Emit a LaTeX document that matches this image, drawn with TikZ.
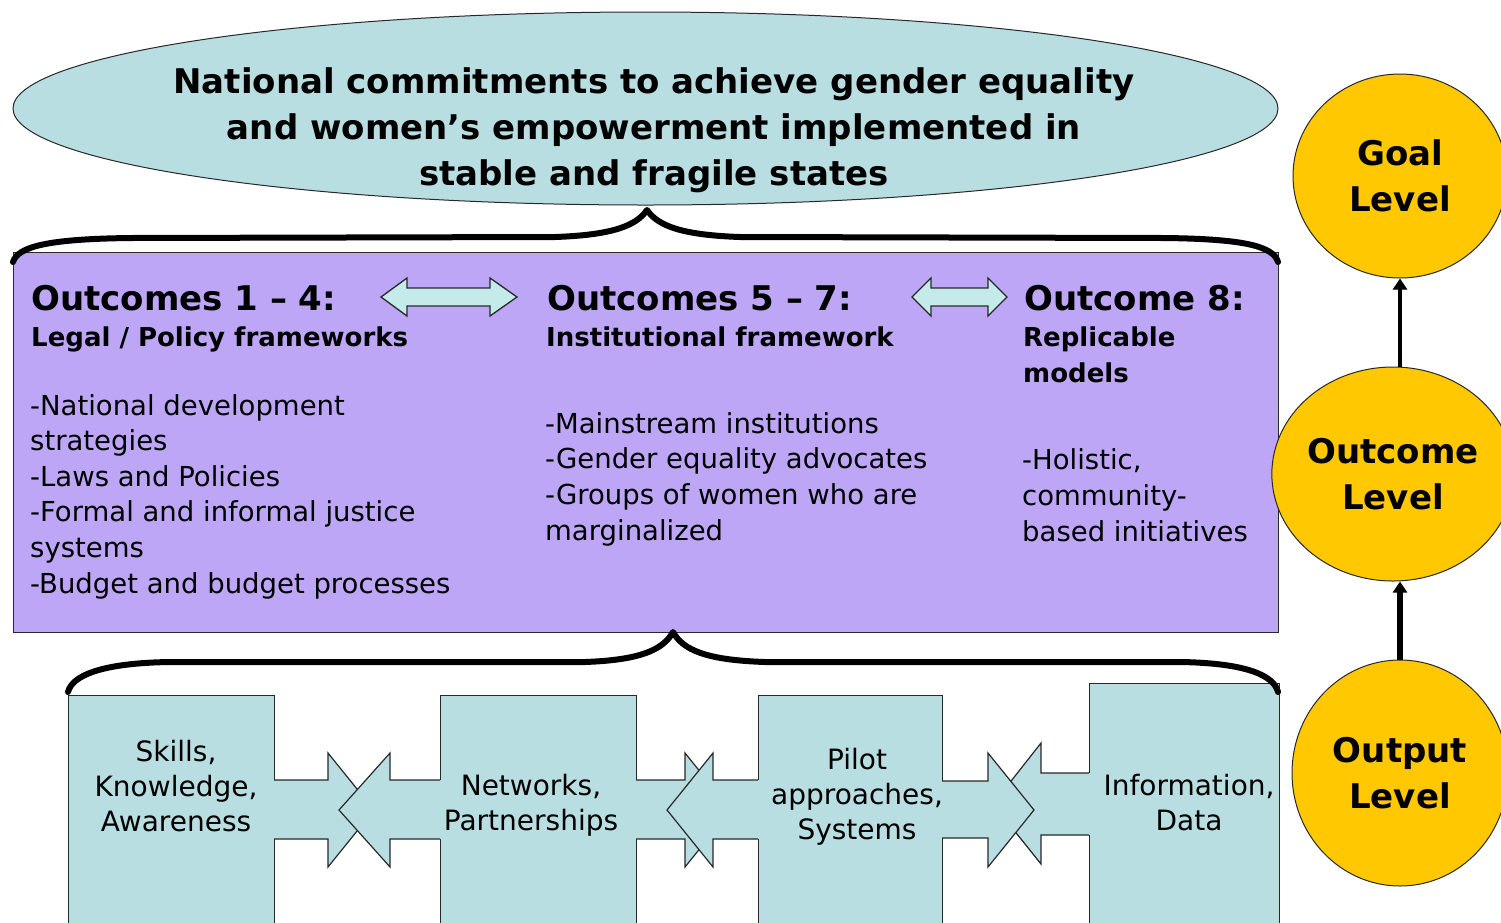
\documentclass[tikz,border=0pt]{standalone}
\usepackage{fontspec}
\setmainfont{DejaVu Sans}
\usetikzlibrary{shapes.geometric,arrows.meta}
\definecolor{tealfill}{RGB}{184,222,226}
\definecolor{purpfill}{RGB}{190,166,246}
\definecolor{goldfill}{RGB}{255,200,0}
\definecolor{arrfill}{RGB}{196,234,234}
\definecolor{edgecol}{RGB}{40,40,40}
\begin{document}
\begin{tikzpicture}[x=1pt,y=-1pt,
  outline/.style={draw=edgecol,line width=1.2pt},
  lvl/.style={ellipse,draw=edgecol,line width=1pt,fill=goldfill,inner sep=0pt,
    align=center,font=\bfseries\fontsize{34}{46}\selectfont},
  lvlarrow/.style={-{Triangle[width=14pt,length=11pt]},line width=4.5pt,black},
  bracestyle/.style={line width=6pt,line cap=round,line join=round,black},
  headt/.style={inner sep=0pt,align=left,font=\bfseries\fontsize{34}{46}\selectfont},
  subt/.style={inner sep=0pt,align=left,font=\bfseries\fontsize{26}{36}\selectfont},
  bodyt/.style={inner sep=0pt,align=left,font=\fontsize{27.5}{35.6}\selectfont},
  boxt/.style={inner sep=0pt,align=center,font=\fontsize{28}{35}\selectfont},
  outbox/.style={outline,fill=tealfill,inner sep=0pt,anchor=north west},
  dblarrow/.style={draw=edgecol,line width=1.3pt,fill=arrfill,line join=miter}
]
\useasboundingbox (0,0) rectangle (1501,922);
\clip (0,0) rectangle (1501,922);

% goal ellipse
\node[ellipse,draw=edgecol,line width=1pt,fill=tealfill,minimum width=1265pt,minimum height=193pt,inner sep=0pt] (goalE) at (645.5,108.5) {};
\node[inner sep=0pt,align=center,font=\bfseries\fontsize{34}{46}\selectfont,anchor=base] (title) at (654,185)
  {National commitments to achieve gender equality\\and women’s empowerment implemented in\\stable and fragile states};

% purple outcome box
\node[outline,fill=purpfill,anchor=north west,minimum width=1265pt,minimum height=380pt,inner sep=0pt] (pbox) at (13,252) {};

% top brace
\draw[bracestyle] (13,262) .. controls (18,246) and (50,239) .. (130,238) -- (555,237)
  .. controls (612,235) and (636,226) .. (647,210)
  .. controls (658,226) and (682,235) .. (740,237) -- (1165,238)
  .. controls (1244,239) and (1273,246) .. (1278,262);

% column headers
\node[headt,anchor=base west] (h1) at (31,310) {Outcomes 1 – 4:};
\node[headt,anchor=base west] (h2) at (547,310) {Outcomes 5 – 7:};
\node[headt,anchor=base west] (h3) at (1024,310) {Outcome 8:};
\node[subt,anchor=base west] (s1) at (31,346) {Legal / Policy frameworks};
\node[subt,anchor=base west] (s2) at (546,346) {Institutional framework};
\node[subt,anchor=base west] (s3) at (1023,382) {Replicable\\models};

% body texts (anchor base = last line baseline)
\node[bodyt,anchor=base west] (c1) at (30,593) {-National development\\strategies\\-Laws and Policies\\-Formal and informal justice\\systems\\-Budget and budget processes};
\node[bodyt,anchor=base west] (c2) at (545,540) {-Mainstream institutions\\-Gender equality advocates\\-Groups of women who are\\marginalized};
\node[bodyt,anchor=base west] (c3) at (1022,541) {-Holistic,\\community-\\based initiatives};

% double arrows between columns
\draw[dblarrow] (381,297) -- (407,278) -- (407,288) -- (490,288) -- (490,278) -- (517,297)
  -- (490,316) -- (490,306) -- (407,306) -- (407,316) -- cycle;
\draw[dblarrow] (912,297) -- (931,278) -- (931,288) -- (988,288) -- (988,278) -- (1007,297)
  -- (988,316) -- (988,306) -- (931,306) -- (931,316) -- cycle;

% bottom boxes
\node[outbox,minimum width=206pt,minimum height=250pt] (b1) at (68,695) {};
\node[outbox,minimum width=196pt,minimum height=250pt] (b2) at (440,695) {};
\node[outbox,minimum width=184pt,minimum height=250pt] (b3) at (758,695) {};
\node[outbox,minimum width=190pt,minimum height=260pt] (b4) at (1089,683) {};

% bottom brace
\draw[bracestyle] (68,692) .. controls (72,676) and (100,663) .. (170,662) -- (585,662)
  .. controls (640,660) and (663,650) .. (673,632)
  .. controls (683,650) and (706,660) .. (765,662) -- (1180,662)
  .. controls (1248,663) and (1274,676) .. (1278,692);

% block arrows: pair 1
\fill[tealfill] (272,780) -- (328,780) -- (328,753) -- (374,810) -- (328,867) -- (328,839) -- (272,839) -- cycle;
\draw[outline,line join=miter] (274,780) -- (328,780) -- (328,753) -- (374,810) -- (328,867) -- (328,839) -- (274,839);
\fill[tealfill] (442,780) -- (390,780) -- (390,753) -- (339,810) -- (390,867) -- (390,839) -- (442,839) -- cycle;
\draw[outline,line join=miter] (440,780) -- (390,780) -- (390,753) -- (339,810) -- (390,867) -- (390,839) -- (440,839);
% pair 2
\fill[tealfill] (634,780) -- (685,780) -- (685,753) -- (731,810) -- (685,867) -- (685,839) -- (634,839) -- cycle;
\draw[outline,line join=miter] (636,780) -- (685,780) -- (685,753) -- (731,810) -- (685,867) -- (685,839) -- (636,839);
\fill[tealfill] (760,780) -- (713,780) -- (713,753) -- (667,810) -- (713,867) -- (713,839) -- (760,839) -- cycle;
\draw[outline,line join=miter] (758,780) -- (713,780) -- (713,753) -- (667,810) -- (713,867) -- (713,839) -- (758,839);
% pair 3
\fill[tealfill] (1091,773) -- (1041,773) -- (1041,743) -- (993,804) -- (1041,864) -- (1041,835) -- (1091,835) -- cycle;
\draw[outline,line join=miter] (1089,773) -- (1041,773) -- (1041,743) -- (993,804) -- (1041,864) -- (1041,835) -- (1089,835);
\fill[tealfill] (940,781) -- (988,781) -- (988,753) -- (1034,810) -- (988,867) -- (988,838) -- (940,838) -- cycle;
\draw[outline,line join=miter] (942,781) -- (988,781) -- (988,753) -- (1034,810) -- (988,867) -- (988,838) -- (942,838);

% box texts (anchor base = last line baseline)
\node[boxt,anchor=base] (t1) at (176,831) {Skills,\\Knowledge,\\Awareness};
\node[boxt,anchor=base] (t2) at (531,830) {Networks,\\Partnerships};
\node[boxt,anchor=base] (t3) at (857,839) {Pilot\\approaches,\\Systems};
\node[boxt,anchor=base] (t4) at (1189,830) {Information,\\Data};

% level circles
\node[lvl,minimum width=214pt,minimum height=204pt] (goal) at (1400,176) {Goal\\Level};
\node[lvl,minimum width=226pt,minimum height=214pt] (outcome) at (1393,474) {Outcome\\Level};
\node[lvl,minimum width=216pt,minimum height=226pt] (output) at (1400,773) {Output\\Level};
\draw[lvlarrow,line width=4pt] (goal.south |- outcome.north) -- (goal.south);
\draw[lvlarrow,line width=5.5pt] (output.north) -- (output.north |- outcome.south);
\end{tikzpicture}
\end{document}
